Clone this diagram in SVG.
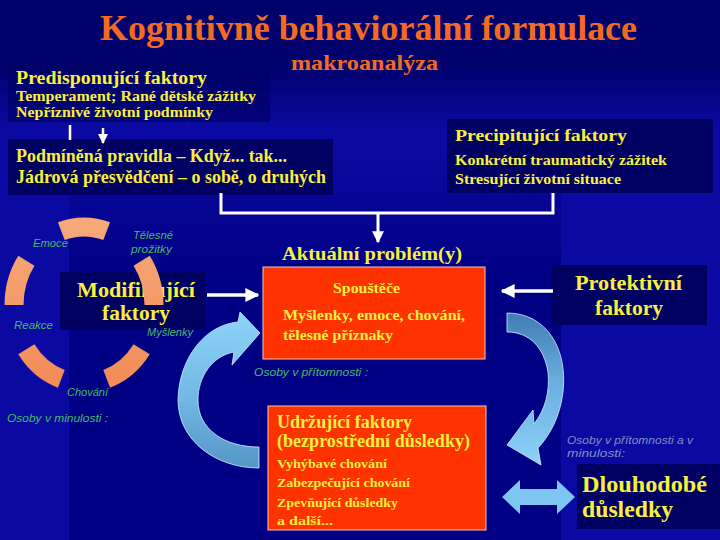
<svg xmlns="http://www.w3.org/2000/svg" width="720" height="540" viewBox="0 0 720 540">
<defs>
<linearGradient id="bgTop" x1="0" y1="0" x2="0" y2="1">
<stop offset="0" stop-color="#00006a"/><stop offset="0.5" stop-color="#00006e"/><stop offset="1" stop-color="#00006e" stop-opacity="0"/>
</linearGradient>
<linearGradient id="bgMid" x1="0" y1="0" x2="0" y2="1">
<stop offset="0" stop-color="#000084" stop-opacity="0"/><stop offset="0.3" stop-color="#000086"/><stop offset="1" stop-color="#000084"/>
</linearGradient>
<linearGradient id="ring" x1="0" y1="0" x2="0" y2="1">
<stop offset="0" stop-color="#f7a878"/><stop offset="1" stop-color="#f28c58"/>
</linearGradient>
<linearGradient id="leftArrow" x1="0" y1="0" x2="0" y2="1">
<stop offset="0" stop-color="#8cd4f8"/><stop offset="0.5" stop-color="#74bce8"/><stop offset="1" stop-color="#5596c6"/>
</linearGradient>
<linearGradient id="rightArrow" x1="0" y1="0" x2="0" y2="1">
<stop offset="0" stop-color="#3f7db2"/><stop offset="0.45" stop-color="#6aaee0"/><stop offset="1" stop-color="#8cd2f8"/>
</linearGradient>
<marker id="ah" viewBox="0 0 10 10" refX="9" refY="5" markerWidth="4" markerHeight="4" orient="auto" markerUnits="strokeWidth">
<path d="M0,0 L10,5 L0,10 Z" fill="#ffffff"/>
</marker>
<style>
.y{font-family:"Liberation Serif","Times New Roman",serif;font-weight:bold;fill:#f8f03c}
.t{font-family:"Liberation Serif","Times New Roman",serif;font-weight:bold;fill:#f56a22}
.g{font-family:"Liberation Sans",Arial,sans-serif;font-style:italic;fill:#48b868;font-size:11px}
.s{font-family:"Liberation Sans",Arial,sans-serif;font-style:italic;fill:#7f90bc;font-size:11px}
.box{fill:#000062}
.red{fill:#ff3300;stroke:#ffc4b8;stroke-width:1}
.w{stroke:#ffffff;stroke-width:3;fill:none}
</style>
</defs>

<!-- background -->
<rect width="720" height="540" fill="#0a0aa2"/>
<rect x="69" y="150" width="492" height="390" fill="url(#bgMid)"/>
<rect x="0" y="0" width="720" height="130" fill="url(#bgTop)"/>

<!-- title -->
<g id="title">
<text class="t" x="100" y="40" font-size="36" textLength="537" lengthAdjust="spacingAndGlyphs">Kognitivně behaviorální formulace</text>
<text class="t" x="291" y="70" font-size="21" textLength="147" lengthAdjust="spacingAndGlyphs">makroanalýza</text>
</g>

<g id="predisponujici">
<rect class="box" x="8" y="64" width="262" height="58" fill-opacity="0.6"/>
<text class="y" x="16" y="84" font-size="18" textLength="191" lengthAdjust="spacingAndGlyphs">Predisponující faktory</text>
<text class="y" x="16" y="101" font-size="15" textLength="240" lengthAdjust="spacingAndGlyphs">Temperament; Rané dětské zážitky</text>
<text class="y" x="16" y="117" font-size="15" textLength="197" lengthAdjust="spacingAndGlyphs">Nepříznivé životní podmínky</text>
</g>

<g id="podminena">
<rect class="box" x="8" y="139" width="325" height="56"/>
<text class="y" x="16" y="162" font-size="18" textLength="271" lengthAdjust="spacingAndGlyphs">Podmíněná pravidla – Když... tak...</text>
<text class="y" x="16" y="183" font-size="18" textLength="310" lengthAdjust="spacingAndGlyphs">Jádrová přesvědčení – o sobě, o druhých</text>
</g>

<g id="precipitujici">
<rect class="box" x="447" y="119" width="266" height="74"/>
<text class="y" x="455" y="141" font-size="17" textLength="172" lengthAdjust="spacingAndGlyphs">Precipitující faktory</text>
<text class="y" x="455" y="165" font-size="14" textLength="212" lengthAdjust="spacingAndGlyphs">Konkrétní traumatický zážitek</text>
<text class="y" x="455" y="184" font-size="14" textLength="166" lengthAdjust="spacingAndGlyphs">Stresující životní situace</text>
</g>

<g id="aktualni">
<text class="y" x="282" y="260" font-size="19" textLength="180" lengthAdjust="spacingAndGlyphs">Aktuální problém(y)</text>
<rect class="red" x="263" y="267" width="222" height="92"/>
<text class="y" x="333" y="293" font-size="15" textLength="67" lengthAdjust="spacingAndGlyphs">Spouštěče</text>
<text class="y" x="283" y="320" font-size="15" textLength="182" lengthAdjust="spacingAndGlyphs">Myšlenky, emoce, chování,</text>
<text class="y" x="283" y="340" font-size="15" textLength="110" lengthAdjust="spacingAndGlyphs">tělesné příznaky</text>
</g>

<g id="osoby-pritomnost">
<text class="g" x="254" y="376" textLength="114" lengthAdjust="spacingAndGlyphs">Osoby v přítomnosti :</text>
</g>

<g id="udrzujici">
<rect class="red" x="268" y="406" width="218" height="124"/>
<text class="y" x="277" y="428" font-size="18" textLength="135" lengthAdjust="spacingAndGlyphs">Udržující faktory</text>
<text class="y" x="277" y="447" font-size="18" textLength="193" lengthAdjust="spacingAndGlyphs">(bezprostřední důsledky)</text>
<text class="y" x="277" y="468" font-size="13" textLength="110" lengthAdjust="spacingAndGlyphs">Vyhýbavé chování</text>
<text class="y" x="277" y="487" font-size="13" textLength="133" lengthAdjust="spacingAndGlyphs">Zabezpečující chování</text>
<text class="y" x="277" y="507" font-size="13" textLength="121" lengthAdjust="spacingAndGlyphs">Zpevňující důsledky</text>
<text class="y" x="277" y="525" font-size="13" textLength="56" lengthAdjust="spacingAndGlyphs">a další...</text>
</g>

<g id="protektivni">
<rect class="box" x="552" y="265" width="155" height="60"/>
<text class="y" x="575" y="290" font-size="20" textLength="107" lengthAdjust="spacingAndGlyphs">Protektivní</text>
<text class="y" x="595" y="315" font-size="20" textLength="68" lengthAdjust="spacingAndGlyphs">faktory</text>
</g>

<g id="dlouhodobe">
<rect class="box" x="577" y="464" width="143" height="65"/>
<text class="y" x="582" y="492" font-size="24" textLength="125" lengthAdjust="spacingAndGlyphs">Dlouhodobé</text>
<text class="y" x="582" y="517" font-size="24" textLength="91" lengthAdjust="spacingAndGlyphs">důsledky</text>
</g>

<g id="osoby-pritomnost-minulost">
<text class="s" x="567" y="444" textLength="126" lengthAdjust="spacingAndGlyphs">Osoby v přítomnosti a v</text>
<text class="s" x="567" y="457" textLength="58" lengthAdjust="spacingAndGlyphs">minulosti:</text>
</g>

<g id="modifikujici">
<rect class="box" x="60" y="272" width="145" height="58"/>
<text class="y" x="77" y="297" font-size="22" textLength="118" lengthAdjust="spacingAndGlyphs">Modifikující</text>
<text class="y" x="102" y="320" font-size="22" textLength="68" lengthAdjust="spacingAndGlyphs">faktory</text>
<ellipse cx="84" cy="305" rx="70" ry="78" fill="none" stroke="url(#ring)" stroke-width="19" pathLength="360" stroke-dasharray="36 36" stroke-dashoffset="36"/>
<text class="g" x="33" y="247" textLength="35" lengthAdjust="spacingAndGlyphs">Emoce</text>
<text class="g" x="133" y="239" textLength="40" lengthAdjust="spacingAndGlyphs">Tělesné</text>
<text class="g" x="131" y="253" textLength="41" lengthAdjust="spacingAndGlyphs">prožitky</text>
<text class="g" x="14" y="329" textLength="39" lengthAdjust="spacingAndGlyphs">Reakce</text>
<text class="g" x="147" y="336" textLength="46" lengthAdjust="spacingAndGlyphs">Myšlenky</text>
<text class="g" x="67" y="396" textLength="41" lengthAdjust="spacingAndGlyphs">Chování</text>
<text class="g" x="7" y="422" textLength="101" lengthAdjust="spacingAndGlyphs">Osoby v minulosti :</text>
</g>

<g id="connectors">
<line x1="70" y1="125" x2="70" y2="140" stroke="#ffffff" stroke-width="2.5"/>
<line x1="103" y1="128" x2="103" y2="143" stroke="#ffffff" stroke-width="2.5" marker-end="url(#ah)"/>
<polyline class="w" points="221,193 221,213 553,213 553,193"/>
<line x1="378" y1="213" x2="378" y2="242" stroke="#ffffff" stroke-width="3" marker-end="url(#ah)"/>
<line x1="207" y1="295" x2="258" y2="295" stroke="#ffffff" stroke-width="3.5" marker-end="url(#ah)"/>
<line x1="553" y1="291" x2="502" y2="291" stroke="#ffffff" stroke-width="3.5" marker-end="url(#ah)"/>
<path d="M238,322 C205,325 179,358 178,400 C178,440 215,468 259,468 L259,447 C225,447 198,430 198,400 C198,377 212,356 234,352 L232,365 L260,333 L240,312 Z" fill="url(#leftArrow)" stroke="#d6ecff" stroke-width="0.8"/>
<path d="M507,313 C546,313 568,348 563,392 C560,417 550,435 538,448 L541,465 L507,445 L533,410 L534,424 C545,410 550,392 548,372 C544,348 530,332 507,332 Z" fill="url(#rightArrow)" stroke="#d6ecff" stroke-width="0.8"/>
<path d="M502,497 L520,480 L520,489 L557,489 L557,480 L575,497 L557,514 L557,505 L520,505 L520,514 Z" fill="#7ec6f2"/>
</g>
</svg>
